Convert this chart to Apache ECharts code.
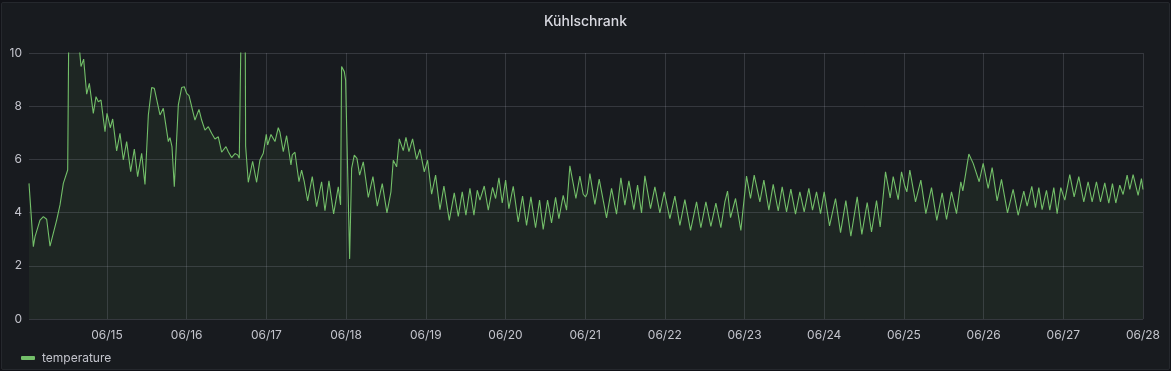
<!DOCTYPE html>
<html>
<head>
<meta charset="utf-8">
<script src="https://cdn.jsdelivr.net/npm/echarts@6/dist/echarts.min.js"></script>
<style>
  html, body { margin: 0; padding: 0; background: #111217; width: 1171px; height: 371px; overflow: hidden; }
  #panel { position: absolute; left: 1px; top: 2px; width: 1167px; height: 366px; background: #181b1f; border: 1px solid #25282d; border-radius: 2px; }
  #chart { position: absolute; left: 0; top: 0; width: 1171px; height: 371px; }
</style>
</head>
<body>
<div id="panel"></div>
<div id="chart"></div>
<script>
// Hours since 06/14 00:00 and temperature readings (°C)
const hours = [
  0.51, 1.82, 2.32, 3.83, 4.83, 5.83, 6.84, 8.84, 9.85, 10.85, 12.16, 12.56, 13.8, 15.5, 15.67,
  16.17, 16.97, 17.88, 18.68, 19.88, 20.69, 21.39, 22.19, 23.40, 24.00, 25.00, 25.71, 26.91, 27.91,
  28.92, 29.92, 31.13, 32.23, 33.23, 34.44, 35.44, 36.45, 37.45, 38.25, 39.96, 40.96, 42.47, 42.97,
  43.57, 44.27, 45.48, 46.48, 47.28, 47.99, 48.70,
  49.29, 49.99, 50.49, 51.70, 52.50, 53.50, 54.51, 55.51, 56.51, 57.52, 58.52, 59.83, 60.53, 61.53,
  62.54, 63.34, 63.84, 64.34, 64.49, 65.60, 65.75, 66.55, 67.86, 69.06, 70.06, 71.07, 71.57, 71.97,
  72.37, 73.38, 73.98, 74.58, 75.58, 76.09, 77.09, 78.09, 79.40, 79.80, 80.60, 81.81, 82.61, 83.41,
  84.42, 85.82, 87.13, 88.63, 89.64, 90.84, 92.25, 93.65, 94.35, 94.65, 95.46, 95.86, 96.26,
  97.07, 97.67, 98.47, 99.27, 100.08, 101.18, 102.69, 104.09, 105.40, 106.90, 108.31, 109.51, 110.21,
  111.22, 112.02, 113.22, 114.03, 114.93, 116.03, 117.24, 118.24, 119.55, 120.55, 121.76, 122.96,
  124.27, 125.47, 127.08, 128.58, 129.79, 130.99, 132.09, 133.30, 134.50, 135.51, 136.31, 137.61,
  138.82, 140.12, 141.03, 142.03, 143.03, 144.04,
  145.03, 146.34, 147.84, 149.15, 150.35, 151.66, 153.06, 154.27, 155.37, 156.68, 157.88, 159.09,
  160.09, 161.39, 162.40, 163.40, 164.41, 165.21, 166.41, 167.42, 168.12, 168.62, 169.42, 170.93,
  172.23, 174.44, 175.95, 177.45, 178.76, 179.96, 181.17, 182.67, 183.78, 184.98, 185.99, 187.69,
  189.00, 190.50, 191.81,
  193.52, 195.02, 196.53, 198.03, 199.74, 201.55, 202.85, 204.36, 205.86, 207.37, 208.87, 210.08,
  210.88, 211.78, 213.29, 214.89, 216.60, 217.80, 218.91, 220.62, 221.82, 223.33, 224.63, 226.14,
  227.34, 228.65, 229.95, 231.35, 232.66, 233.96, 235.37, 236.47, 237.68, 238.88, 239.99,
  241.60, 243.40, 244.91, 246.51, 248.02, 249.93, 251.33, 252.94, 254.24, 255.75, 256.85, 258.46,
  259.86, 260.77, 262.27, 263.28, 264.28, 264.88, 265.78, 267.49, 269.10, 270.60, 272.31, 273.91,
  275.52, 276.83, 278.33, 279.84, 281.14, 281.74, 282.35, 283.55, 284.86, 286.66, 287.87, 289.37,
  290.57, 292.07, 293.38, 295.19, 296.89, 298.40, 300.10, 301.11, 302.51, 303.62, 304.62, 305.62,
  306.93, 307.93, 309.14, 310.14, 311.24, 312.45, 313.95, 315.26, 316.66, 318.17, 319.47, 320.68,
  321.98, 323.19, 324.49, 325.70, 326.80, 327.81, 329.01, 329.51, 330.01, 331.22, 332.02, 333.02,
  334.53, 335.53, 336.00
];
const temps = [
  5.10, 2.72, 3.10, 3.72, 3.85, 3.75, 2.74, 3.72, 4.29, 5.10, 5.60, 12.0, 12.5, 11.0, 10.2,
  9.49, 9.77, 8.45, 8.86, 7.73, 8.36, 8.17, 8.23, 7.04, 7.73, 7.19, 7.52, 6.32, 6.98,
  5.98, 6.67, 5.54, 6.39, 5.35, 6.23, 5.06, 7.67, 8.70, 8.67, 7.67, 7.92, 6.67, 6.82,
  6.48, 4.97, 8.05, 8.70, 8.73, 8.48, 8.40,
  8.10, 7.73, 7.48, 7.88, 7.48, 7.10, 7.23, 6.98, 6.77, 6.85, 6.27, 6.48, 6.29, 6.07,
  6.22, 6.17, 6.04, 5.98, 12.0, 12.0, 6.5, 5.14, 5.93, 5.14, 5.98, 6.23, 6.27, 6.94,
  6.54, 6.94, 6.89, 6.67, 7.19, 7.02, 6.29, 6.89, 5.79, 6.17, 6.27, 5.16, 5.60, 5.16,
  4.44, 5.35, 4.22, 5.16, 4.07, 5.19, 3.95, 4.97, 4.29, 9.49, 9.30, 8.98, 9.04,
  2.26, 5.66, 6.16, 6.04, 5.41, 5.91, 4.57, 5.35, 4.24, 5.09, 3.99, 4.78, 5.97,
  5.72, 6.77, 6.33, 6.83, 6.29, 6.77, 6.00, 6.38, 5.53, 5.97, 4.69, 5.41,
  4.11, 5.00, 3.71, 4.74, 3.86, 4.78, 3.90, 4.91, 3.90, 4.84, 4.47, 5.00,
  4.09, 4.95, 4.53, 5.31, 4.36, 5.22,
  4.15, 4.99, 3.65, 4.62, 3.52, 4.59, 3.43, 4.47, 3.37, 4.47, 3.61, 4.57,
  3.77, 4.65, 4.09, 5.76, 5.09, 4.53, 5.37, 4.69, 4.59, 4.72, 5.47, 4.31,
  5.26, 3.80, 4.91, 3.94, 5.31, 4.28, 5.19, 4.11, 5.03, 3.99, 5.38, 4.15,
  4.97, 3.99, 4.78,
  3.77, 4.62, 3.52, 4.49, 3.33, 4.40, 3.43, 4.40, 3.48, 4.36, 3.43, 4.40,
  4.81, 3.81, 4.53, 3.33, 5.37, 4.53, 5.41, 4.40, 5.22, 4.09, 5.06, 4.06,
  4.97, 4.03, 4.88, 3.94, 4.78, 4.03, 4.91, 4.09, 4.78, 3.96, 4.78,
  3.50, 4.53, 3.25, 4.45, 3.11, 4.59, 3.18, 4.38, 3.27, 4.45, 3.46, 5.53,
  4.55, 5.35, 4.49, 5.53, 4.99, 4.78, 5.60, 4.40, 5.22, 3.96, 4.94, 3.71,
  4.74, 3.74, 4.78, 3.96, 5.16, 4.82, 5.28, 6.20, 5.85, 5.16, 5.85, 4.91,
  5.69, 4.44, 5.25, 3.99, 4.87, 3.90, 4.81, 4.24, 4.99, 4.19, 4.94, 4.11,
  4.84, 4.09, 4.94, 3.96, 4.94, 4.47, 5.43, 4.59, 5.35, 4.40, 5.16, 4.40,
  5.16, 4.40, 5.12, 4.36, 5.09, 4.36, 5.03, 5.09, 4.68, 5.41, 4.87, 5.43,
  4.65, 5.28, 4.87
];
// X-axis ticks (hours since 06/14 00:00) and their labels
const dayTicks = [24, 48, 72, 96, 120, 144, 168, 192, 216, 240, 264, 288, 312, 336];
const dayLabels = ['06/15', '06/16', '06/17', '06/18', '06/19', '06/20', '06/21', '06/22', '06/23', '06/24', '06/25', '06/26', '06/27', '06/28'];
const yTicks = [0, 2, 4, 6, 8, 10];
const seriesName = 'temperature';
const chartTitle = 'Kühlschrank';

const seriesData = hours.map((h, i) => [h, temps[i]]);
const font = 'Inter, "Noto Sans", sans-serif';
const gridColor = 'rgba(204,204,220,0.17)';
const textColor = '#c3c4cc';

const chart = echarts.init(document.getElementById('chart'), null, { renderer: 'canvas' });
chart.setOption({
  backgroundColor: 'transparent',
  animation: false,
  title: {
    text: chartTitle,
    left: 'center',
    top: 10,
    textStyle: { color: '#d8d9e0', fontSize: 14, fontWeight: 500, fontFamily: font }
  },
  legend: {
    left: 16,
    bottom: 2,
    icon: 'roundRect',
    itemWidth: 14,
    itemHeight: 4,
    itemGap: 10,
    textStyle: { color: textColor, fontSize: 12, fontFamily: font, padding: [0, 0, 0, 2] },
    data: [seriesName]
  },
  grid: { left: 29, right: 28, top: 53, bottom: 52, containLabel: false },
  xAxis: {
    type: 'value',
    min: 0.51,
    max: 336,
    axisLine: { show: false },
    axisTick: { show: false, customValues: dayTicks },
    axisLabel: {
      customValues: dayTicks,
      color: textColor,
      fontSize: 12,
      fontFamily: font,
      margin: 10,
      formatter: (v) => {
        const i = dayTicks.findIndex(t => Math.abs(t - v) < 0.01);
        return i >= 0 ? dayLabels[i] : '';
      }
    },
    splitLine: { show: true, lineStyle: { color: gridColor, width: 1 } }
  },
  yAxis: {
    type: 'value',
    min: yTicks[0],
    max: yTicks[yTicks.length - 1],
    interval: 2,
    axisLine: { show: false },
    axisTick: { show: false },
    axisLabel: { color: textColor, fontSize: 12, fontFamily: font, margin: 7 },
    splitLine: { show: true, lineStyle: { color: gridColor, width: 1 } }
  },
  series: [{
    name: seriesName,
    type: 'line',
    data: seriesData,
    showSymbol: false,
    symbol: 'none',
    clip: true,
    smooth: false,
    color: '#73bf69',
    lineStyle: { color: '#73bf69', width: 1.1 },
    areaStyle: { color: 'rgba(115,191,105,0.1)' }
  }]
});
</script>
</body>
</html>
